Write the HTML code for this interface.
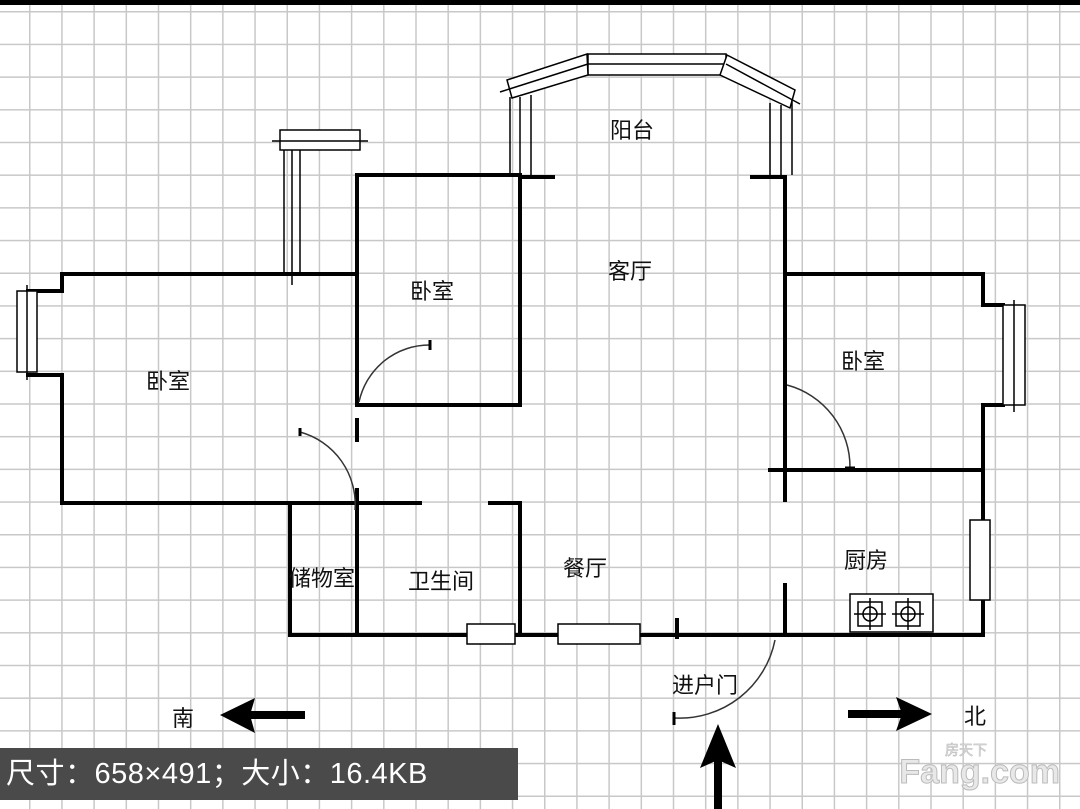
<!DOCTYPE html>
<html><head><meta charset="utf-8"><style>
html,body{margin:0;padding:0;}
body{width:1080px;height:809px;overflow:hidden;position:relative;background:#fff;
background-image:linear-gradient(to right,#c8c8c8 1.5px,transparent 1.5px),linear-gradient(to bottom,#c8c8c8 1.5px,transparent 1.5px);
background-size:32.2px 32.7px;background-position:29px 11px;}
svg{position:absolute;left:0;top:0;}
.cap{position:absolute;left:0;top:748px;width:518px;height:52px;background:#4a4a4a;color:#fff;font:29px "Liberation Sans","Noto Sans CJK SC",sans-serif;line-height:52px;padding-left:6px;box-sizing:border-box;white-space:nowrap;letter-spacing:0.5px;}
</style></head><body>
<svg width="1080" height="809" viewBox="0 0 1080 809" font-family="Liberation Sans, Noto Sans CJK SC, sans-serif">
<rect x="0" y="0" width="1080" height="5" fill="#000"/>
<g stroke="#000" stroke-width="4" fill="none" stroke-linecap="square">
<polyline points="28,291 62,291 62,274 357,274"/>
<polyline points="28,375 62,375 62,503 420,503"/>
<line x1="357" y1="175" x2="357" y2="405"/>
<line x1="357" y1="420" x2="357" y2="440"/>
<line x1="357" y1="490" x2="357" y2="635"/>
<polyline points="357,175 520,175 520,405 357,405"/>
<line x1="520" y1="177" x2="553" y2="177"/>
<line x1="752" y1="177" x2="785" y2="177"/>
<line x1="785" y1="177" x2="785" y2="500"/>
<polyline points="785,274 983,274 983,305 1003,305"/>
<polyline points="1003,405 983,405 983,635 677,635"/>
<line x1="770" y1="470" x2="983" y2="470"/>
<line x1="290" y1="503" x2="290" y2="635"/>
<line x1="290" y1="635" x2="467" y2="635"/>
<line x1="515" y1="635" x2="558" y2="635"/>
<line x1="640" y1="635" x2="677" y2="635"/>
<line x1="677" y1="620" x2="677" y2="637"/>
<line x1="785" y1="585" x2="785" y2="635"/>
<line x1="490" y1="503" x2="520" y2="503"/>
<line x1="520" y1="503" x2="520" y2="635"/>
</g>
<g stroke="#000" stroke-width="1.5" fill="#fff">
<rect x="17" y="291" width="20" height="81"/><line x1="27" y1="285" x2="27" y2="380"/>
<rect x="280" y="130" width="80" height="20"/><line x1="272" y1="141" x2="368" y2="141"/>
<line x1="284" y1="150" x2="284" y2="274"/><line x1="292" y1="150" x2="292" y2="285"/><line x1="300" y1="150" x2="300" y2="274"/>
<rect x="1003" y="305" width="22" height="100"/><line x1="1014" y1="300" x2="1014" y2="412"/>
<rect x="970" y="520" width="20" height="80"/>
<rect x="467" y="624" width="48" height="20"/>
<rect x="558" y="624" width="82" height="20"/>
<rect x="588" y="54" width="138" height="21"/><line x1="588" y1="64" x2="726" y2="64"/>
<polygon points="507,80 587,54 588,75 512,98"/><line x1="500" y1="92" x2="588" y2="64"/>
<polygon points="727,55 795,90 790,108 720,75"/><line x1="726" y1="64" x2="800" y2="104"/>
<line x1="510" y1="97" x2="510" y2="175"/><line x1="520" y1="97" x2="520" y2="175"/><line x1="531" y1="95" x2="531" y2="175"/>
<line x1="770" y1="103" x2="770" y2="175"/><line x1="781" y1="105" x2="781" y2="175"/><line x1="792" y1="100" x2="792" y2="175"/>
<rect x="850" y="594" width="83" height="38"/>
<rect x="858" y="602" width="24" height="24"/><rect x="896" y="602" width="24" height="24"/>
<circle cx="870" cy="614" r="7"/><circle cx="908" cy="614" r="7"/>
<line x1="854" y1="614" x2="886" y2="614"/><line x1="870" y1="598" x2="870" y2="630"/>
<line x1="892" y1="614" x2="924" y2="614"/><line x1="908" y1="598" x2="908" y2="630"/>
</g>
<g stroke="#333" stroke-width="1.5" fill="none">
<path d="M359,402 A72,72 0 0 1 430,345"/>
<path d="M300,432 A75,75 0 0 1 355,510"/>
<path d="M787,385 A85,85 0 0 1 850,468"/>
<path d="M775,640 A97,97 0 0 1 675,718"/>
</g>
<g stroke="#000" stroke-width="3">
<line x1="430" y1="340" x2="430" y2="350"/><line x1="674" y1="712" x2="674" y2="725"/>
<line x1="300" y1="428" x2="300" y2="436"/><line x1="845" y1="468" x2="855" y2="468"/>
</g>
<g fill="#000">
<rect x="245" y="711" width="60" height="8"/><polygon points="220,715 255,698 250,715 255,733"/>
<rect x="848" y="710" width="55" height="8"/><polygon points="932,714 896,697 902,714 896,731"/>
<rect x="714" y="760" width="8" height="49"/><polygon points="718,724 700,768 718,760 736,768"/>
</g>
<g font-size="22" fill="#111" text-anchor="middle">
<text x="632" y="138">阳台</text>
<text x="630" y="279">客厅</text>
<text x="432" y="299">卧室</text>
<text x="168" y="389">卧室</text>
<text x="863" y="369">卧室</text>
<text x="322" y="586">储物室</text>
<text x="441" y="589">卫生间</text>
<text x="585" y="576">餐厅</text>
<text x="866" y="568">厨房</text>
<text x="705" y="693">进户门</text>
<text x="183" y="726">南</text>
<text x="975" y="724">北</text>
</g>
<text x="1060" y="783" text-anchor="end" font-size="34" font-weight="bold" fill="#e8e8e8" stroke="#bbb" stroke-width="1">Fang.com</text>
<text x="945" y="755" font-size="14" fill="#e8e8e8" stroke="#bbb" stroke-width="0.6">房天下</text>
</svg>
<div class="cap">尺寸：658×491；大小：16.4KB</div>
</body></html>
